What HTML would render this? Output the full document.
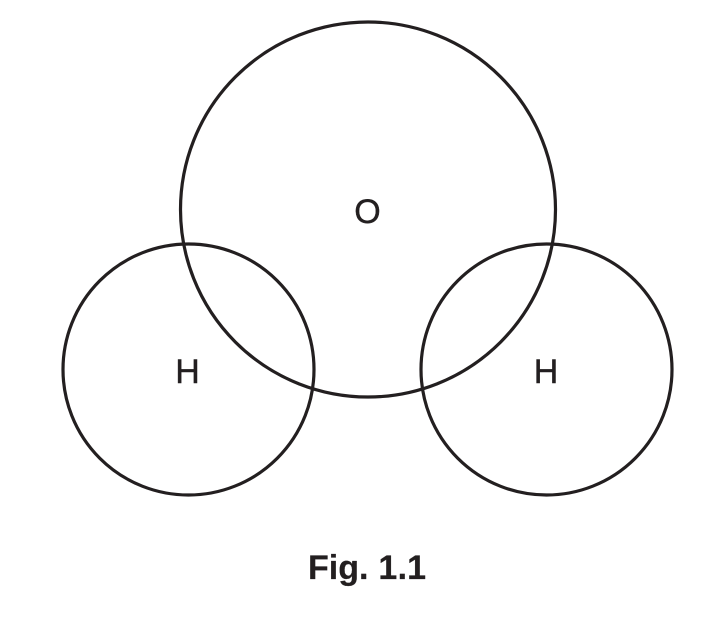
<!DOCTYPE html>
<html>
<head>
<meta charset="utf-8">
<style>
html,body{margin:0;padding:0;background:#fff;width:714px;height:619px;overflow:hidden}
svg{display:block}
text{font-family:"Liberation Sans",Arial,sans-serif;fill:#231f20;stroke:#231f20}
</style>
</head>
<body>
<svg width="714" height="619" viewBox="0 0 714 619" xmlns="http://www.w3.org/2000/svg">
<rect width="714" height="619" fill="#fff"/>
<g fill="none" stroke="#231f20" stroke-width="3.2">
<circle cx="368" cy="209.500" r="187.500"/>
<circle cx="188.500" cy="369.500" r="125.500"/>
<circle cx="546.500" cy="369.500" r="125.500"/>
</g>
<text x="367.500" y="223" font-size="34" stroke-width="0.4" text-anchor="middle">O</text>
<text x="187.500" y="383" font-size="34" stroke-width="0.4" text-anchor="middle">H</text>
<text x="546" y="383" font-size="34" stroke-width="0.4" text-anchor="middle">H</text>
<text x="367" y="579" font-size="34" font-weight="bold" stroke-width="0.2" text-anchor="middle">Fig. <tspan dx="0.5">1</tspan><tspan dx="0.3">.1</tspan></text>
</svg>
</body>
</html>
